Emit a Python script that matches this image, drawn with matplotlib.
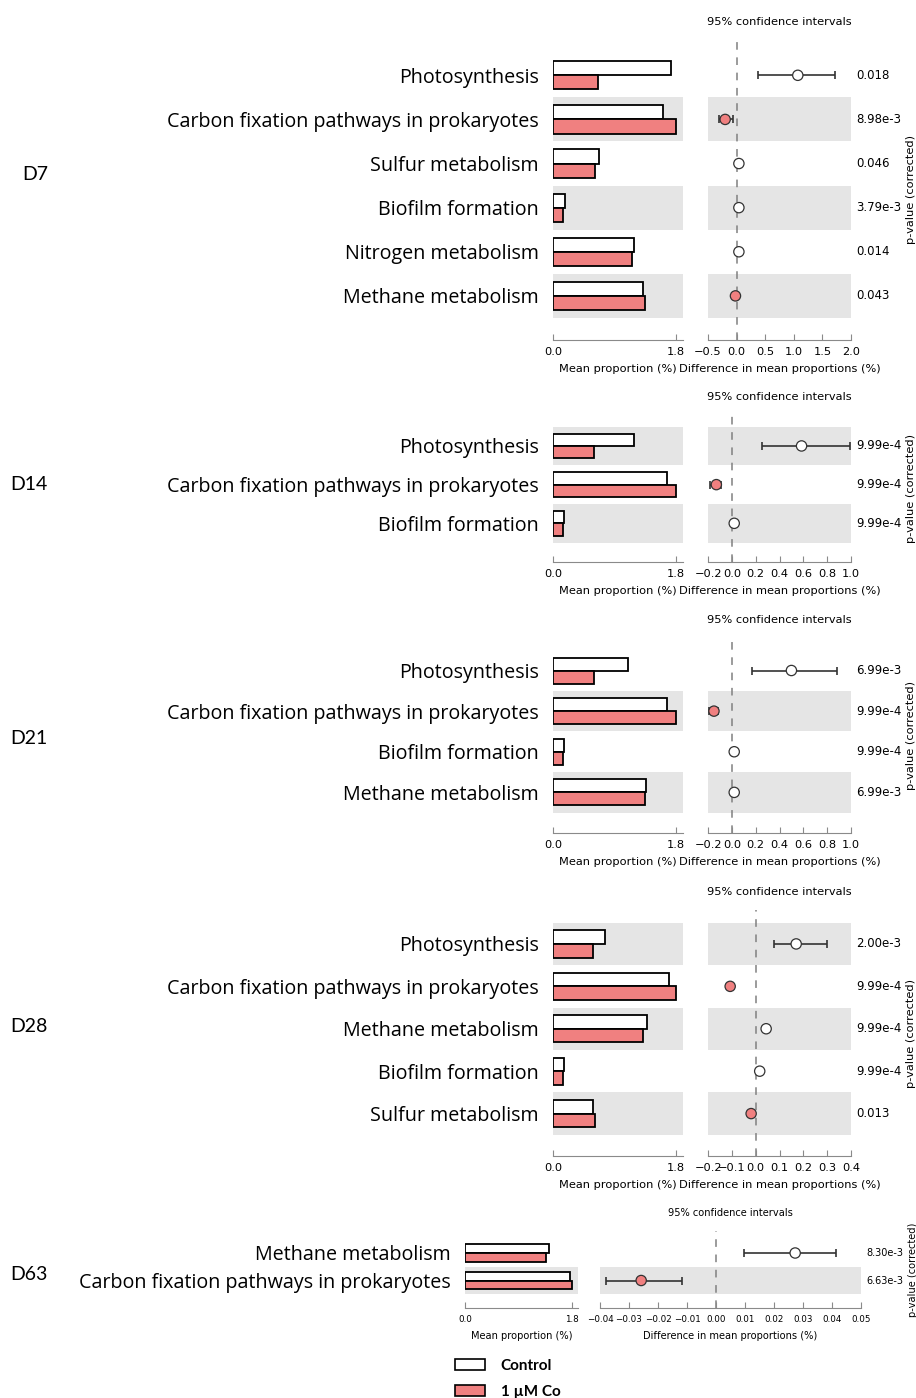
import numpy as np
import matplotlib
matplotlib.use('Agg')
import matplotlib.pyplot as plt
from matplotlib.patches import Patch
from matplotlib.transforms import blended_transform_factory

W, H = 916, 1398

# ---- data ----
d7_labels = ['Photosynthesis', 'Carbon fixation pathways in prokaryotes', 'Sulfur metabolism',
             'Biofilm formation', 'Nitrogen metabolism', 'Methane metabolism']
d7_control = [1.73, 1.61, 0.67, 0.18, 1.19, 1.32]
d7_co = [0.66, 1.80, 0.62, 0.14, 1.15, 1.34]
d7_diff = [1.07, -0.20, 0.04, 0.04, 0.04, -0.02]
d7_lo = [0.37, -0.31, 0.03, 0.03, 0.03, -0.03]
d7_hi = [1.72, -0.07, 0.05, 0.05, 0.05, -0.01]
d7_p = ['0.018', '8.98e-3', '0.046', '3.79e-3', '0.014', '0.043']

d14_labels = ['Photosynthesis', 'Carbon fixation pathways in prokaryotes', 'Biofilm formation']
d14_control = [1.19, 1.67, 0.16]
d14_co = [0.60, 1.80, 0.15]
d14_diff = [0.585, -0.13, 0.02]
d14_lo = [0.25, -0.18, 0.015]
d14_hi = [0.99, -0.09, 0.025]
d14_p = ['9.99e-4', '9.99e-4', '9.99e-4']

d21_labels = ['Photosynthesis', 'Carbon fixation pathways in prokaryotes', 'Biofilm formation',
              'Methane metabolism']
d21_control = [1.10, 1.66, 0.16, 1.36]
d21_co = [0.60, 1.80, 0.14, 1.34]
d21_diff = [0.50, -0.15, 0.02, 0.02]
d21_lo = [0.17, -0.19, 0.015, 0.015]
d21_hi = [0.88, -0.12, 0.025, 0.025]
d21_p = ['6.99e-3', '9.99e-4', '9.99e-4', '6.99e-3']

d28_labels = ['Photosynthesis', 'Carbon fixation pathways in prokaryotes', 'Methane metabolism',
              'Biofilm formation', 'Sulfur metabolism']
d28_control = [0.76, 1.70, 1.37, 0.16, 0.59]
d28_co = [0.59, 1.80, 1.32, 0.14, 0.61]
d28_diff = [0.17, -0.107, 0.044, 0.017, -0.019]
d28_lo = [0.075, -0.115, 0.040, 0.014, -0.023]
d28_hi = [0.30, -0.100, 0.048, 0.020, -0.015]
d28_p = ['2.00e-3', '9.99e-4', '9.99e-4', '9.99e-4', '0.013']

d63_labels = ['Methane metabolism', 'Carbon fixation pathways in prokaryotes']
d63_control = [1.41, 1.76]
d63_co = [1.37, 1.80]
d63_diff = [0.0273, -0.0258]
d63_lo = [0.0098, -0.0379]
d63_hi = [0.0415, -0.0116]
d63_p = ['8.30e-3', '6.63e-3']

co_color = '#F08080'
band_color = '#E5E5E5'
spine_color = '#8a8a8a'
row_font = ['Open Sans', 'DejaVu Sans']
label_font = ['Lato', 'DejaVu Sans']

fig = plt.figure(figsize=(W / 100, H / 100), dpi=100)


def px_axes(x0, y0, x1, y1):
    return fig.add_axes([x0 / W, 1 - y1 / H, (x1 - x0) / W, (y1 - y0) / H])


def panel(name, name_xy, labels, ctrl, co, diff, lo, hi, pvals, box, ci_lim, ci_step,
          p_x, lab_x, fs=8.2, tfs=8.2, pfs=8.5):
    y_top, y_bot, bx0, bx1, cx0, cx1 = box
    n = len(labels)
    rows = np.arange(n)[::-1]
    ctrl = np.array(ctrl)
    co = np.array(co)
    diff = np.array(diff)
    lo = np.array(lo)
    hi = np.array(hi)

    ax1 = px_axes(bx0, y_top, bx1, y_bot)
    ax2 = px_axes(cx0, y_top, cx1, y_bot)
    for ax in (ax1, ax2):
        for r in rows:
            if r % 2 == 0:
                ax.axhspan(r - 0.5, r + 0.5, color=band_color, lw=0, zorder=0)
        ax.set_ylim(-1.0, n - 0.5 + 0.3)
        for s in ('top', 'left', 'right'):
            ax.spines[s].set_visible(False)
        ax.spines['bottom'].set_color(spine_color)
        ax.tick_params(axis='x', direction='in', length=4, color=spine_color,
                       labelsize=tfs, pad=5)

    # mean proportion bars
    ax1.barh(rows + 0.16, ctrl, height=0.32, color='white', edgecolor='black', lw=1.3, zorder=2)
    ax1.barh(rows - 0.16, co, height=0.32, color=co_color, edgecolor='black', lw=1.3, zorder=2)
    ax1.set_xlim(0, 1.9)
    ax1.set_xticks([0, 1.8])
    ax1.set_yticks(rows)
    ax1.set_yticklabels(labels, fontsize=14.2, family=row_font)
    ax1.tick_params(axis='y', length=0, pad=10)
    ax1.set_xlabel('Mean proportion (%)', fontsize=fs, labelpad=5)

    # confidence intervals
    ax2.axvline(0, color='#808080', ls='--', dashes=(5, 5), lw=1.1, zorder=1)
    ax2.errorbar(diff, rows, xerr=[diff - lo, hi - diff], fmt='none', ecolor='#333333',
                 elinewidth=1.2, capsize=3.2, capthick=1.2, zorder=3)
    fills = [co_color if d < 0 else 'white' for d in diff]
    ax2.scatter(diff, rows, s=55, c=fills, edgecolors='#333333', linewidths=0.9, zorder=4)
    ax2.set_xlim(ci_lim)
    ax2.set_xticks(np.round(np.arange(ci_lim[0], ci_lim[1] + ci_step / 2, ci_step), 3))
    ax2.set_yticks([])
    ax2.set_xlabel('Difference in mean proportions (%)', fontsize=fs, labelpad=5)
    ax2.set_title('95% confidence intervals', fontsize=fs, pad=11)

    tr = blended_transform_factory(ax2.transAxes, ax2.transData)
    for r, p in zip(rows, pvals):
        ax2.text((p_x - cx0) / (cx1 - cx0), r, p, transform=tr, fontsize=pfs,
                 va='center', ha='left')
    ax2.text((lab_x - cx0) / (cx1 - cx0), 0.5, 'p-value (corrected)', transform=ax2.transAxes,
             rotation=90, fontsize=fs, va='center', ha='center')

    fig.text(name_xy[0] / W, 1 - name_xy[1] / H, name, fontsize=14, family=label_font,
             va='center', ha='left')


panel('D7', (22, 175), d7_labels, d7_control, d7_co, d7_diff, d7_lo, d7_hi, d7_p,
      (40, 340, 553, 683, 708, 851), (-0.5, 2.0), 0.5, 856, 911)
panel('D14', (10, 485), d14_labels, d14_control, d14_co, d14_diff, d14_lo, d14_hi, d14_p,
      (415, 562, 553, 683, 708, 851), (-0.2, 1.0), 0.2, 856, 911)
panel('D21', (10, 738), d21_labels, d21_control, d21_co, d21_diff, d21_lo, d21_hi, d21_p,
      (638, 833, 553, 683, 708, 851), (-0.2, 1.0), 0.2, 856, 911)
panel('D28', (10, 1026), d28_labels, d28_control, d28_co, d28_diff, d28_lo, d28_hi, d28_p,
      (910, 1156, 553, 683, 708, 851), (-0.2, 0.4), 0.1, 856, 911)
panel('D63', (10, 1275), d63_labels, d63_control, d63_co, d63_diff, d63_lo, d63_hi, d63_p,
      (1231, 1308, 465, 578, 600, 861), (-0.04, 0.05), 0.01, 866, 913,
      fs=7.1, tfs=6.3, pfs=7)

handles = [Patch(facecolor='white', edgecolor='black', lw=1.2, label='Control'),
           Patch(facecolor=co_color, edgecolor='black', lw=1.2, label='1 µM Co')]
fig.legend(handles=handles, loc='upper left', bbox_to_anchor=(441 / W, 1 - 1345 / H),
           frameon=False, prop={'family': label_font, 'weight': 'bold', 'size': 11},
           handlelength=2.0, handleheight=0.7, labelspacing=0.8, handletextpad=1.0)

fig.savefig('out.png', dpi=100)
